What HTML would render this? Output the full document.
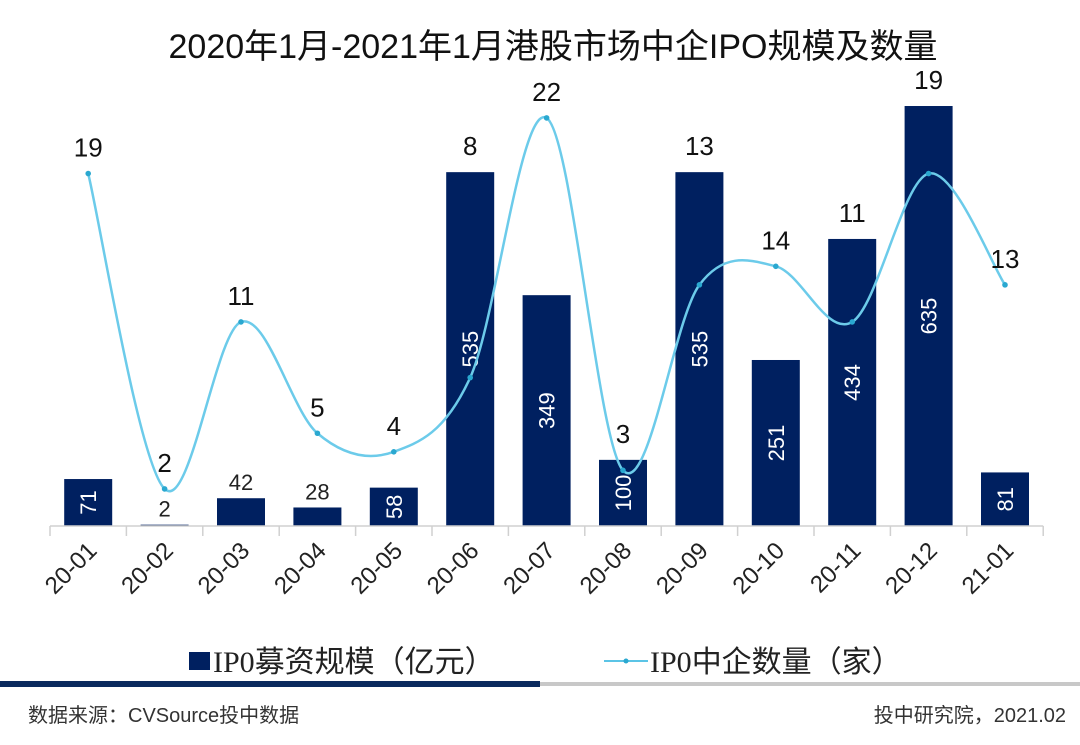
<!DOCTYPE html>
<html><head><meta charset="utf-8"><style>
body{margin:0;background:#fff;width:1080px;height:740px;overflow:hidden;font-family:"Liberation Sans","Noto Sans CJK SC",sans-serif}
svg text{font-family:"Liberation Sans","Noto Sans CJK SC",sans-serif}
</style></head><body>
<svg id="chart" width="1080" height="740" xmlns="http://www.w3.org/2000/svg">
<text x="553" y="58" font-size="34" text-anchor="middle" fill="#111">2020年1月-2021年1月港股市场中企IPO规模及数量</text>
<g id="bars"></g><g id="line"></g><g id="xaxis"></g>
<g>
<rect x="189" y="652" width="21" height="18" fill="#002060"/>
<text x="213" y="672" font-size="30" fill="#222"><tspan font-family="Liberation Serif">IP0</tspan>募资规模（亿元）</text>
<line x1="604" y1="661" x2="648" y2="661" stroke="#5BC4E6" stroke-width="2"/>
<circle cx="626" cy="661" r="2.5" fill="#2AA8D0"/>
<text x="650" y="672" font-size="30" fill="#222"><tspan font-family="Liberation Serif">IP0</tspan>中企数量（家）</text>
</g>
<rect x="0" y="681" width="540" height="6" fill="#0B2A5E"/>
<rect x="540" y="682" width="540" height="4" fill="#C8C8C8"/>
<text x="28" y="722" font-size="20" fill="#333">数据来源：CVSource投中数据</text>
<text x="1066" y="722" font-size="20" fill="#333" text-anchor="end">投中研究院，2021.02</text>
</svg>
<script>
const categories=["20-01","20-02","20-03","20-04","20-05","20-06","20-07","20-08","20-09","20-10","20-11","20-12","21-01"];
const amounts=[71,2,42,28,58,535,349,100,535,251,434,635,81];
const counts=[19,2,11,5,4,8,22,3,13,14,11,19,13];
const NS="http://www.w3.org/2000/svg";
const x0=50,step=76.4,base=526;
const xc=i=>x0+step*(i+0.5);
const yBar=v=>base-v*0.6614;
const yLine=v=>base-v*18.55;
function mk(t,a,p){const e=document.createElementNS(NS,t);for(const k in a)e.setAttribute(k,a[k]);p.appendChild(e);return e;}
const gb=document.getElementById('bars'),gl=document.getElementById('line'),gx=document.getElementById('xaxis');
amounts.forEach((v,i)=>{
 const h=base-yBar(v);
 const r=mk('rect',{x:xc(i)-24,y:yBar(v),width:48,height:Math.max(h,1.5),fill:'#002060'},gb);
 
 
 let t;
 if(h<33){
  t=mk('text',{x:xc(i),y:yBar(v)-8,'font-size':22,'text-anchor':'middle',fill:'#222'},gb);
 }else{
  const cy=base-h/2;
  t=mk('text',{x:xc(i),y:cy+8,'font-size':22,'text-anchor':'middle',fill:'#fff',transform:`rotate(-90 ${xc(i)} ${cy})`},gb);
 }
 t.textContent=v;
 
 
});
const pts=counts.map((v,i)=>[xc(i),yLine(v)]);
let d=`M${pts[0][0]},${pts[0][1]}`;
for(let i=0;i<pts.length-1;i++){
 const p0=pts[i-1]||pts[i],p1=pts[i],p2=pts[i+1],p3=pts[i+2]||p2;
 const c1=[p1[0]+(p2[0]-p0[0])/6,p1[1]+(p2[1]-p0[1])/6],c2=[p2[0]-(p3[0]-p1[0])/6,p2[1]-(p3[1]-p1[1])/6];
 d+=` C${c1[0]},${c1[1]} ${c2[0]},${c2[1]} ${p2[0]},${p2[1]}`;
}
const path=mk('path',{d:d,fill:'none',stroke:'#6CCBEA','stroke-width':2.5},gl);


pts.forEach((p,i)=>{
 const c=mk('circle',{cx:p[0],cy:p[1],r:2.8,fill:'#2AA8D0'},gl);
 
 
 const top=Math.min(p[1],yBar(amounts[i]));
 const t=mk('text',{x:p[0],y:top-17,'font-size':26,'text-anchor':'middle',fill:'#111'},gl);
 t.textContent=counts[i];
 
 
});
const ax=mk('line',{x1:x0,y1:base,x2:x0+step*13,y2:base,stroke:'#D0D0D0','stroke-width':1.5},gx);


for(let i=0;i<=13;i++){
 const tk=mk('line',{x1:x0+step*i,y1:base,x2:x0+step*i,y2:base+10,stroke:'#D0D0D0','stroke-width':1.5},gx);
 
 
}
categories.forEach((c,i)=>{
 const tx=xc(i)+10,ty=base+26;
 const t=mk('text',{x:tx,y:ty,'font-size':24,'text-anchor':'end',fill:'#222',transform:`rotate(-45 ${tx} ${ty})`},gx);
 t.textContent=c;
 
 
});
</script>
</body></html>
